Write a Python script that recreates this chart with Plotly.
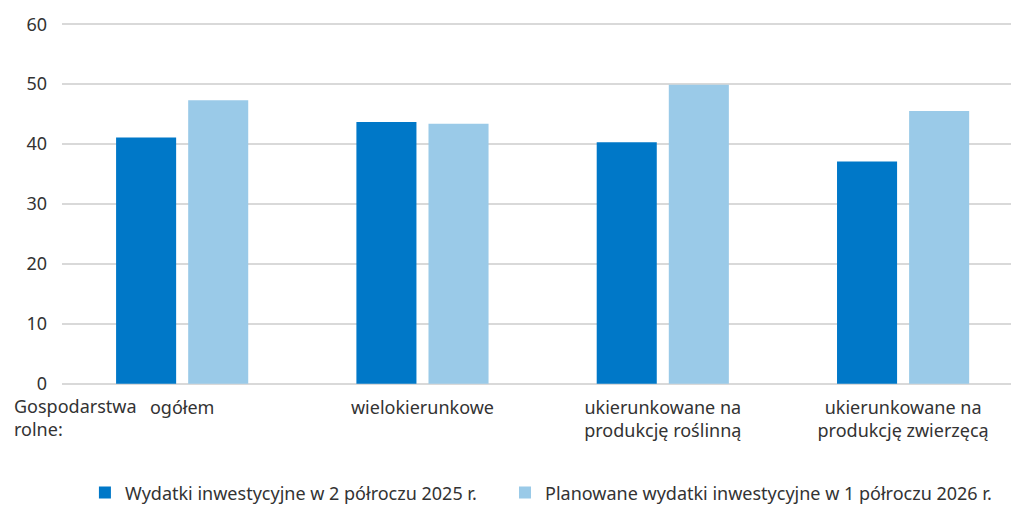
import plotly.graph_objects as go

categories = ["ogółem", "wielokierunkowe", "ukierunkowane na<br>produkcję roślinną", "ukierunkowane na<br>produkcję zwierzęcą"]
series_2025 = [41.1, 43.7, 40.3, 37.1]
series_2026 = [47.3, 43.4, 49.9, 45.5]
name_2025 = "Wydatki inwestycyjne w 2 półroczu 2025 r."
name_2026 = "Planowane wydatki inwestycyjne w 1 półroczu 2026 r."
group_label = "Gospodarstwa<br>rolne:"
y_ticks = [0, 10, 20, 30, 40, 50, 60]

FONT = "Noto Sans"
TXT = "#333333"
FS = 18

fig = go.Figure()
fig.add_trace(go.Bar(x=categories, y=series_2025, name=name_2025, legend="legend",
                     marker=dict(color="#0078c8", line=dict(width=0))))
fig.add_trace(go.Bar(x=categories, y=series_2026, name=name_2026, legend="legend2",
                     marker=dict(color="#9acae8", line=dict(width=0))))

leg_common = dict(orientation="h", xanchor="left", xref="container",
                  y=0.026, yanchor="middle", yref="container",
                  font=dict(family=FONT, size=FS, color=TXT),
                  itemwidth=30, tracegroupgap=0, bgcolor="rgba(0,0,0,0)")

fig.update_layout(
    width=1011, height=506,
    margin=dict(l=62, r=0, t=23, b=121, autoexpand=False),
    paper_bgcolor="white", plot_bgcolor="white",
    barmode="group", bargap=0.40, bargroupgap=0.167,
    font=dict(family=FONT, size=FS, color=TXT),
    showlegend=True,
    legend=dict(x=0.084, **leg_common),
    legend2=dict(x=0.4995, **leg_common),
    xaxis=dict(showgrid=False, showline=False, ticks="", zeroline=False,
               range=[-0.5, 3.449],
               ticklabelstandoff=10,
               tickfont=dict(family=FONT, size=FS, color=TXT)),
    yaxis=dict(range=[-0.2, 60.2], tickvals=y_ticks, showgrid=True, gridcolor="#d9d9d9",
               gridwidth=2, zeroline=False, showline=False, ticks="",
               ticklabelstandoff=14,
               tickfont=dict(family=FONT, size=FS, color=TXT)),
)
fig.add_annotation(text=group_label, xref="paper", yref="paper", x=-0.0527, y=-0.02,
                   xanchor="left", yanchor="top", showarrow=False, align="left",
                   font=dict(family=FONT, size=FS, color=TXT))

post = ("document.body.style.margin='0';document.body.style.overflow='hidden';"
        "var gd=document.getElementById('{plot_id}');"
        "Plotly.relayout(gd,{width:1011,height:506});")
fig.write_html("out.html", post_script=post,
               config={"responsive": False, "displayModeBar": False})
